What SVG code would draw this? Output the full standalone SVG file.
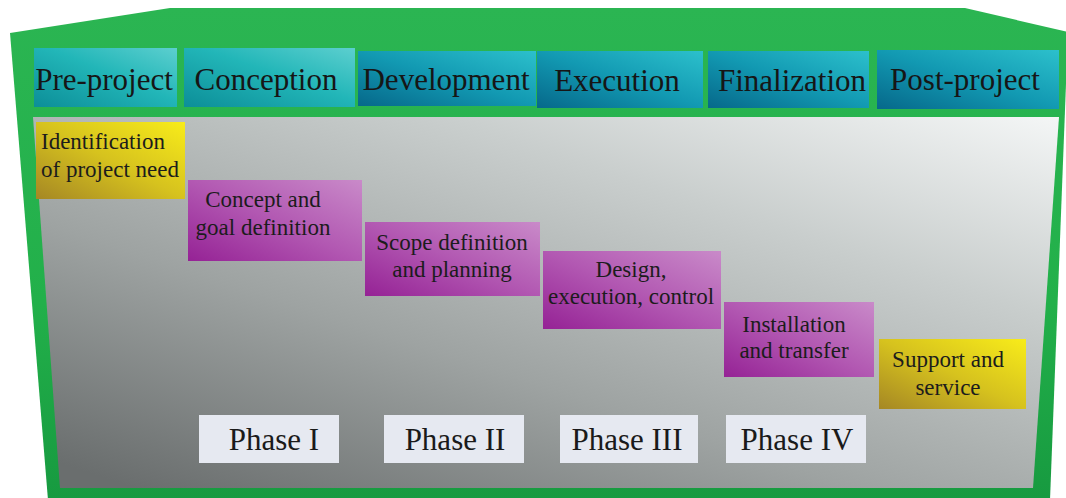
<svg xmlns="http://www.w3.org/2000/svg" width="1066" height="498" viewBox="0 0 1066 498">
<defs>
<linearGradient id="gGreen" x1="0" y1="0" x2="0" y2="1">
<stop offset="0" stop-color="#2bb552"/>
<stop offset="0.6" stop-color="#22b04a"/>
<stop offset="1" stop-color="#179a40"/>
</linearGradient>
<linearGradient id="gBody" x1="1" y1="0" x2="0.1" y2="1">
<stop offset="0" stop-color="#f4f6f6"/>
<stop offset="0.3" stop-color="#c9cecd"/>
<stop offset="0.65" stop-color="#9ea3a2"/>
<stop offset="1" stop-color="#6a6e6e"/>
</linearGradient>
<linearGradient id="gTeal" x1="1" y1="0" x2="0" y2="1">
<stop offset="0" stop-color="#5ccfcf"/>
<stop offset="0.45" stop-color="#22b6b8"/>
<stop offset="1" stop-color="#0c8e98"/>
</linearGradient>
<linearGradient id="gBlue" x1="1" y1="0" x2="0" y2="1">
<stop offset="0" stop-color="#2cc0cc"/>
<stop offset="0.5" stop-color="#1299b2"/>
<stop offset="1" stop-color="#06688a"/>
</linearGradient>
<linearGradient id="gMag" x1="1" y1="0" x2="0" y2="1">
<stop offset="0" stop-color="#c98ac9"/>
<stop offset="0.5" stop-color="#b258b2"/>
<stop offset="1" stop-color="#952295"/>
</linearGradient>
<linearGradient id="gYel" x1="1" y1="0" x2="0" y2="1">
<stop offset="0" stop-color="#f8ec1a"/>
<stop offset="0.5" stop-color="#d6c21e"/>
<stop offset="1" stop-color="#a58724"/>
</linearGradient>
<style>
.hd{font-size:31px;fill:#161616;text-anchor:middle}
.tx{font-size:23px;fill:#1c1c1c;text-anchor:middle}
.st{text-anchor:start}
.ph{font-size:31px;fill:#1a1a1a;text-anchor:middle}
.teal{fill:url(#gTeal)}
.blue{fill:url(#gBlue)}
.mag{fill:url(#gMag)}
.yel{fill:url(#gYel)}
.phb{fill:#e6e9f1}
</style>
</defs>

<g id="frame">
<polygon points="10,33 170,8 965,8 1068,32 1050,500 48,500" fill="url(#gGreen)"/>
<polygon points="33,117 1059,117 1033,488 60,488" fill="url(#gBody)"/>
</g>

<g id="h-preproject"><rect class="teal" x="34" y="48" width="143" height="59"/><text class="hd" x="104" y="90" font-family="Liberation Serif">Pre-project</text></g>
<g id="h-conception"><rect class="teal" x="184" y="48" width="171" height="59"/><text class="hd" x="266" y="90" font-family="Liberation Serif">Conception</text></g>
<g id="h-development"><rect class="blue" x="358" y="51" width="178" height="55"/><text class="hd" x="446" y="90" font-family="Liberation Serif">Development</text></g>
<g id="h-execution"><rect class="blue" x="537" y="51" width="166" height="57"/><text class="hd" x="617" y="91" font-family="Liberation Serif">Execution</text></g>
<g id="h-finalization"><rect class="blue" x="708" y="51" width="161" height="57"/><text class="hd" x="792" y="91" font-family="Liberation Serif">Finalization</text></g>
<g id="h-postproject"><rect class="blue" x="877" y="50" width="182" height="59"/><text class="hd" x="965" y="90" font-family="Liberation Serif">Post-project</text></g>

<g id="n-identification"><rect class="yel" x="36" y="122" width="149" height="77"/><text class="tx st" x="41" y="149" font-family="Liberation Serif">Identification</text><text class="tx st" x="41" y="177" font-family="Liberation Serif">of project need</text></g>
<g id="n-concept"><rect class="mag" x="188" y="180" width="174" height="81"/><text class="tx" x="263" y="207" font-family="Liberation Serif">Concept and</text><text class="tx" x="263" y="235" font-family="Liberation Serif">goal definition</text></g>
<g id="n-scope"><rect class="mag" x="365" y="222" width="175" height="74"/><text class="tx" x="452" y="250" font-family="Liberation Serif">Scope definition</text><text class="tx" x="452" y="277" font-family="Liberation Serif">and planning</text></g>
<g id="n-design"><rect class="mag" x="543" y="251" width="178" height="78"/><text class="tx" x="631" y="277" font-family="Liberation Serif">Design,</text><text class="tx" x="631" y="304" font-family="Liberation Serif">execution, control</text></g>
<g id="n-installation"><rect class="mag" x="724" y="302" width="150" height="75"/><text class="tx" x="794" y="332" font-family="Liberation Serif">Installation</text><text class="tx" x="794" y="358" font-family="Liberation Serif">and transfer</text></g>
<g id="n-support"><rect class="yel" x="879" y="339" width="147" height="70"/><text class="tx" x="948" y="367" font-family="Liberation Serif">Support and</text><text class="tx" x="948" y="395" font-family="Liberation Serif">service</text></g>

<g id="p-phase1"><rect class="phb" x="199" y="415" width="140" height="48"/><text class="ph" x="274" y="450" font-family="Liberation Serif">Phase I</text></g>
<g id="p-phase2"><rect class="phb" x="384" y="415" width="140" height="48"/><text class="ph" x="455" y="450" font-family="Liberation Serif">Phase II</text></g>
<g id="p-phase3"><rect class="phb" x="560" y="415" width="138" height="48"/><text class="ph" x="627" y="450" font-family="Liberation Serif">Phase III</text></g>
<g id="p-phase4"><rect class="phb" x="726" y="415" width="140" height="48"/><text class="ph" x="797" y="450" font-family="Liberation Serif">Phase IV</text></g>

<g id="connectors"/>
</svg>
